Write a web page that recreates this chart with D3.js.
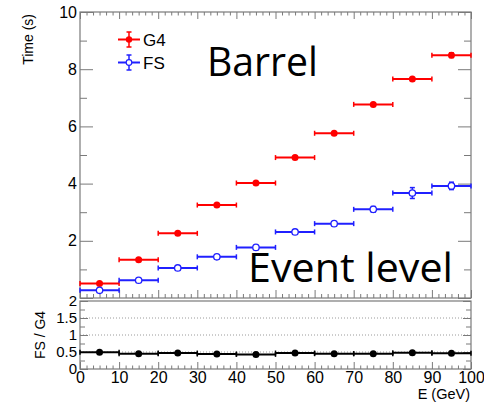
<!DOCTYPE html>
<html>
<head>
<meta charset="utf-8">
<script src="https://cdn.jsdelivr.net/npm/d3@7"></script>
<style>
  html, body { margin: 0; padding: 0; background: #fff; }
  svg { display: block; }
  text { font-family: "Liberation Sans", Arial, sans-serif; fill: #000; }
</style>
</head>
<body>
<script>
// ---------------- data ----------------
const energy = [5, 15, 25, 35, 45, 55, 65, 75, 85, 95];
const binHalfWidth = 5;
const g4Time = [0.51, 1.34, 2.26, 3.25, 4.02, 4.91, 5.76, 6.77, 7.66, 8.49];
const g4Err  = [0.02, 0.03, 0.03, 0.03, 0.04, 0.04, 0.04, 0.04, 0.06, 0.08];
const fsTime = [0.27, 0.62, 1.05, 1.44, 1.77, 2.31, 2.60, 3.10, 3.67, 3.92];
const fsErr  = [0.02, 0.02, 0.03, 0.03, 0.04, 0.05, 0.04, 0.10, 0.19, 0.13];
const ratio    = [0.49, 0.45, 0.47, 0.44, 0.43, 0.47, 0.45, 0.45, 0.48, 0.46];
const ratioErr = [0.01, 0.01, 0.01, 0.01, 0.01, 0.01, 0.01, 0.02, 0.03, 0.02];
const xMajorTicks = [0, 10, 20, 30, 40, 50, 60, 70, 80, 90, 100];
const timeMajorTicks = [0, 2, 4, 6, 8, 10];
const timeMinorTicks = [1, 3, 5, 7, 9];
const ratioMajorTicks = [0, 0.5, 1, 1.5, 2];
const ratioMinorTicks = [0.25, 0.75, 1.25, 1.75];
const ratioGrid = [0.5, 1, 1.5];
const seriesNames = ["G4", "FS"];

// ---------------- layout ----------------
const W = 484, H = 402;
const L = 80, R = 471;
const topY0 = 12, topY1 = 298;
const botY0 = 301, botY1 = 369;
const frameColor = "#7a7a7a";
const red = "#ff0000", blue = "#2020ff";

const svg = d3.select("body").append("svg").attr("width", W).attr("height", H);

const x = d3.scaleLinear().domain([0, 100]).range([L, R]);
const yT = d3.scaleLinear().domain([0, 10]).range([topY1, topY0]);
const yB = d3.scaleLinear().domain([0, 2]).range([botY1, botY0]);

// x minor ticks: 6 subdivisions per major
const xMinorTicks = [];
for (let i = 0; i < 10; i++) for (let k = 1; k < 6; k++) xMinorTicks.push(i * 10 + k * 10 / 6);

function styleAxis(g) {
  g.select(".domain").remove();
  g.selectAll(".tick line").attr("stroke", frameColor).attr("stroke-width", 1);
  g.selectAll(".tick text").style("font-family", "'Liberation Sans', Arial, sans-serif").attr("fill", "#000");
}
function addAxis(axis, tx, ty) {
  const g = svg.append("g").attr("transform", `translate(${tx},${ty})`).call(axis);
  styleAxis(g);
  return g;
}

// ---------------- upper pad ----------------
svg.append("rect").attr("x", L).attr("y", topY0).attr("width", R - L).attr("height", topY1 - topY0)
  .attr("fill", "none").attr("stroke", frameColor).attr("stroke-width", 1.2);

const gyl = addAxis(d3.axisLeft(yT).tickValues(timeMajorTicks).tickSize(-13).tickSizeOuter(0).tickPadding(3)
  .tickFormat(d => d === 0 ? "" : d3.format("d")(d)), L, 0);
gyl.selectAll(".tick text").style("font-size", "16px");
addAxis(d3.axisLeft(yT).tickValues(timeMinorTicks).tickSize(-7).tickSizeOuter(0).tickFormat(""), L, 0);
addAxis(d3.axisRight(yT).tickValues(timeMajorTicks).tickSize(-13).tickSizeOuter(0).tickFormat(""), R, 0);
addAxis(d3.axisRight(yT).tickValues(timeMinorTicks).tickSize(-7).tickSizeOuter(0).tickFormat(""), R, 0);
addAxis(d3.axisTop(x).tickValues(xMajorTicks).tickSize(-7).tickSizeOuter(0).tickFormat(""), 0, topY0);
addAxis(d3.axisTop(x).tickValues(xMinorTicks).tickSize(-3.5).tickSizeOuter(0).tickFormat(""), 0, topY0);
addAxis(d3.axisBottom(x).tickValues(xMajorTicks).tickSize(-8).tickSizeOuter(0).tickFormat(""), 0, topY1);
addAxis(d3.axisBottom(x).tickValues(xMinorTicks).tickSize(-4).tickSizeOuter(0).tickFormat(""), 0, topY1);

svg.append("text").attr("transform", `translate(33,14) rotate(-90)`).attr("text-anchor", "end")
  .style("font-size", "14px").text("Time (s)");

function drawSeries(values, errs, yScale, color, filled) {
  const g = svg.append("g");
  const cap = 2.5;
  values.forEach((v, i) => {
    const c = energy[i];
    const x0 = x(c - binHalfWidth), x1 = x(c + binHalfWidth), cx = x(c), cy = yScale(v);
    const yl = yScale(v - errs[i]), yh = yScale(v + errs[i]);
    g.append("line").attr("x1", x0).attr("x2", x1).attr("y1", cy).attr("y2", cy)
      .attr("stroke", color).attr("stroke-width", 2);
    [x0, x1].forEach(xx => g.append("line").attr("x1", xx).attr("x2", xx).attr("y1", cy - cap).attr("y2", cy + cap)
      .attr("stroke", color).attr("stroke-width", 1.5));
    g.append("line").attr("x1", cx).attr("x2", cx).attr("y1", yl).attr("y2", yh)
      .attr("stroke", color).attr("stroke-width", 1.5);
    if (Math.abs(yh - yl) > 4) {
      [yl, yh].forEach(yy => g.append("line").attr("x1", cx - cap).attr("x2", cx + cap).attr("y1", yy).attr("y2", yy)
        .attr("stroke", color).attr("stroke-width", 1.5));
    }
    g.append("circle").attr("cx", cx).attr("cy", cy).attr("r", filled ? 3.5 : 3.2)
      .attr("fill", filled ? color : "#fff").attr("stroke", color).attr("stroke-width", filled ? 0 : 1.3);
  });
}
drawSeries(g4Time, g4Err, yT, red, true);
drawSeries(fsTime, fsErr, yT, blue, false);

// legend
function legendEntry(yy, color, filled, name) {
  const g = svg.append("g");
  g.append("line").attr("x1", 118).attr("x2", 140).attr("y1", yy).attr("y2", yy).attr("stroke", color).attr("stroke-width", 2);
  g.append("line").attr("x1", 129).attr("x2", 129).attr("y1", yy - 7.5).attr("y2", yy + 7.5).attr("stroke", color).attr("stroke-width", 1.5);
  [yy - 7.5, yy + 7.5].forEach(v => g.append("line").attr("x1", 126.5).attr("x2", 131.5).attr("y1", v).attr("y2", v).attr("stroke", color).attr("stroke-width", 1.5));
  g.append("circle").attr("cx", 129).attr("cy", yy).attr("r", filled ? 3.2 : 2.8)
    .attr("fill", filled ? color : "#fff").attr("stroke", color).attr("stroke-width", filled ? 0 : 1.2);
  g.append("text").attr("x", 143).attr("y", yy + 6).style("font-size", "17px").text(name);
}
legendEntry(39.5, red, true, seriesNames[0]);
legendEntry(62.5, blue, false, seriesNames[1]);

// big labels
svg.append("text").attr("x", 207).attr("y", 76).style("font-family", "'Open Sans', 'Noto Sans', sans-serif")
  .style("font-size", "41px").attr("textLength", 111).attr("lengthAdjust", "spacingAndGlyphs").text("Barrel");
svg.append("text").attr("x", 248).attr("y", 282).style("font-family", "'Open Sans', 'Noto Sans', sans-serif")
  .style("font-size", "41px").attr("textLength", 205).attr("lengthAdjust", "spacingAndGlyphs").text("Event level");

// ---------------- lower pad ----------------
svg.append("g").selectAll("line").data(ratioGrid).join("line")
  .attr("x1", L).attr("x2", R).attr("y1", d => yB(d)).attr("y2", d => yB(d))
  .attr("stroke", "#9a9a9a").attr("stroke-width", 1).attr("stroke-dasharray", "1,2");

svg.append("rect").attr("x", L).attr("y", botY0).attr("width", R - L).attr("height", botY1 - botY0)
  .attr("fill", "none").attr("stroke", frameColor).attr("stroke-width", 1.2);

const gbl = addAxis(d3.axisLeft(yB).tickValues(ratioMajorTicks).tickSize(-8).tickSizeOuter(0).tickPadding(3)
  .tickFormat(d => d3.format("~g")(d)), L, 0);
gbl.selectAll(".tick text").style("font-size", "15px");
addAxis(d3.axisLeft(yB).tickValues(ratioMinorTicks).tickSize(-5).tickSizeOuter(0).tickFormat(""), L, 0);
addAxis(d3.axisRight(yB).tickValues(ratioMajorTicks).tickSize(-8).tickSizeOuter(0).tickFormat(""), R, 0);
addAxis(d3.axisRight(yB).tickValues(ratioMinorTicks).tickSize(-5).tickSizeOuter(0).tickFormat(""), R, 0);

const gbx = addAxis(d3.axisBottom(x).tickValues(xMajorTicks).tickSize(-7).tickSizeOuter(0).tickPadding(3)
  .tickFormat(d3.format("d")), 0, botY1);
gbx.selectAll(".tick text").style("font-size", "16px");
addAxis(d3.axisBottom(x).tickValues(xMinorTicks).tickSize(-3.5).tickSizeOuter(0).tickFormat(""), 0, botY1);

svg.append("text").attr("transform", `translate(45,335) rotate(-90)`).attr("text-anchor", "middle")
  .style("font-size", "14px").text("FS / G4");
svg.append("text").attr("x", 470).attr("y", 399).attr("text-anchor", "end")
  .style("font-size", "14.5px").text("E (GeV)");

drawSeries(ratio, ratioErr, yB, "#000", true);
</script>
</body>
</html>
